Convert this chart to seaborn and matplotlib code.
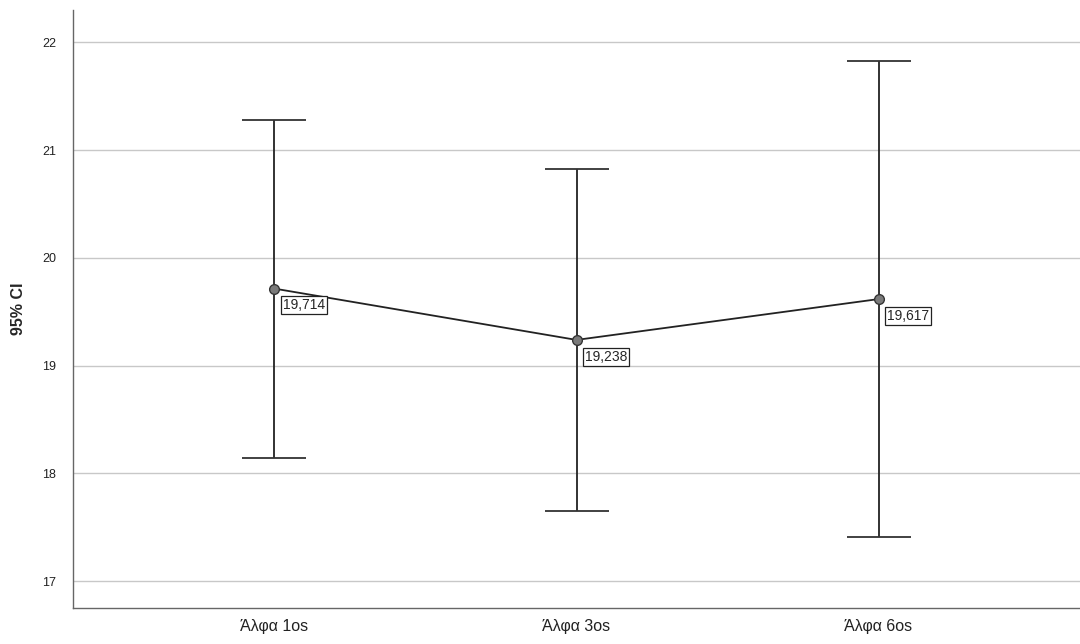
import matplotlib
matplotlib.use("Agg")
import matplotlib.pyplot as plt
import seaborn as sns
import pandas as pd

groups = ["Άλφα 1os", "Άλφα 3os", "Άλφα 6os"]
means = [19.714, 19.238, 19.617]
ci_low = [18.14, 17.65, 17.41]
ci_high = [21.28, 20.82, 21.83]
mean_labels = ["19,714", "19,238", "19,617"]

sns.set_style("white")
plt.rcParams['font.family'] = ['Liberation Sans', 'DejaVu Sans']

fig = plt.figure(figsize=(10.8, 6.44), dpi=100)
ax = fig.add_axes([0.0676, 0.0559, 0.9324, 0.9286])

df = pd.DataFrame({"group": groups, "mean": means})

ax.errorbar(range(len(groups)), means,
            yerr=[[m - lo for m, lo in zip(means, ci_low)],
                  [hi - m for m, hi in zip(means, ci_high)]],
            fmt="none", ecolor="#222222", elinewidth=1.3, capsize=23, capthick=1.3, zorder=3)
sns.pointplot(data=df, x="group", y="mean", color="#222222", errorbar=None,
              markers="o", linestyles="-", ax=ax, zorder=4,
              markersize=7, linewidth=1.3)
for line in ax.lines:
    line.set_markerfacecolor("#7a7a7a")
    line.set_markeredgecolor("#333333")

for i, (m, lab) in enumerate(zip(means, mean_labels)):
    ax.annotate(lab, (i, m), xytext=(6, -7), textcoords="offset points",
                ha="left", va="top", fontsize=10, zorder=5,
                bbox=dict(boxstyle="square,pad=0.15", fc="white", ec="#222222", lw=0.9))

ax.set_xlim(-0.667, 2.667)
ax.set_ylim(16.75, 22.30)
ax.set_yticks([17, 18, 19, 20, 21, 22])
ax.yaxis.grid(True, color="#c8c8c8", linewidth=1)
ax.set_axisbelow(True)
ax.tick_params(axis="both", length=0)
ax.tick_params(axis="y", labelsize=9, pad=12, colors="#222222")
ax.tick_params(axis="x", labelsize=11.5, pad=8, colors="#222222")
ax.set_xlabel("")
ax.set_ylabel("95% CI", fontsize=11.5, fontweight="bold", labelpad=12)
for s in ["top", "right"]:
    ax.spines[s].set_visible(False)
for s in ["left", "bottom"]:
    ax.spines[s].set_color("#666666")
    ax.spines[s].set_linewidth(1)

fig.savefig("out.png", dpi=100)
